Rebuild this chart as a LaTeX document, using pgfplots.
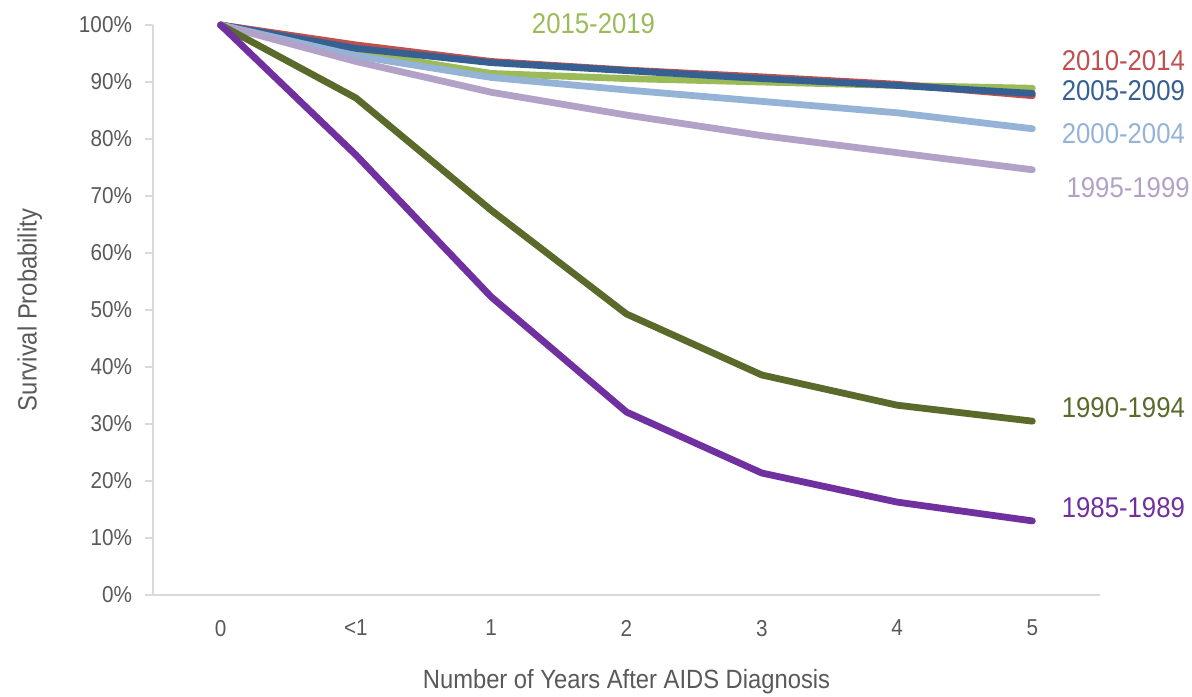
\documentclass[border=0pt]{standalone}
\usepackage{pgfplots}
\usepackage{pgfplotstable}
\pgfplotsset{compat=1.18}
\usepackage{fontspec}
\setmainfont{Liberation Sans}[FakeStretch=0.9]

\definecolor{txtgray}{HTML}{595959}
\definecolor{axgray}{HTML}{D9D9D9}
\definecolor{c8589}{HTML}{7030A0}
\definecolor{c9094}{HTML}{5A6A2A}
\definecolor{c9599}{HTML}{B3A2C7}
\definecolor{c0004}{HTML}{95B3D7}
\definecolor{c0509}{HTML}{376092}
\definecolor{c1014}{HTML}{C0504D}
\definecolor{c1519}{HTML}{9BBB59}

% Survival probability (%) by year of AIDS diagnosis
% x: 0 = diagnosis, 1 = "<1", 2..6 = years 1..5
\pgfplotstableread{
x  s8589 s9094 s9599 s0004 s0509 s1014 s1519
0  100   100   100   100   100   100   100
1  77.2  87.2  93.6  94.6  95.9  96.5  95.3
2  52.3  67.5  88.2  90.8  93.4  93.6  91.5
3  32.1  49.3  84.2  88.6  92.0  92.1  90.6
4  21.4  38.6  80.6  86.6  90.6  90.9  90.0
5  16.3  33.3  77.6  84.6  89.4  89.6  89.4
6  13.0  30.5  74.6  81.8  88.0  87.6  88.9
}\survival

\begin{document}
\begin{tikzpicture}
\path[use as bounding box] (-76.5pt,-50.5pt) rectangle (519.5pt,297.5pt);
\begin{axis}[
  at={(0,0)}, anchor=south west,
  scale only axis,
  width=473.5pt, height=285pt,
  xmin=-0.5, xmax=6.5,
  ymin=0, ymax=100,
  clip=false,
  axis x line*=bottom,
  axis y line*=left,
  x axis line style={axgray, line width=1pt},
  y axis line style={axgray, line width=0.6pt},
  xtick={0,1,2,3,4,5,6},
  xticklabels={0,<1,1,2,3,4,5},
  ytick={0,10,20,30,40,50,60,70,80,90,100},
  yticklabels={0\%,10\%,20\%,30\%,40\%,50\%,60\%,70\%,80\%,90\%,100\%},
  tick align=outside,
  major tick length=4pt,
  xtick style={draw=none},
  ytick style={axgray, line width=0.6pt},
  tick label style={txtgray, font=\fontsize{11.5}{14}\selectfont},
  yticklabel style={xshift=-3pt},
  xticklabel style={yshift=-5pt},
  xlabel={Number of Years After AIDS Diagnosis},
  ylabel={Survival Probability},
  label style={txtgray, font=\fontsize{13.2}{15}\selectfont},
  xlabel style={at={(axis description cs:0.5,-0.1526)}, anchor=center},
  ylabel style={at={(axis description cs:-0.13,0.5)}, anchor=center},
  every axis plot/.style={line width=3.4pt, line cap=round, line join=round},
]
\addplot[c1519] table[x=x, y=s1519] {\survival};
\addplot[c1014] table[x=x, y=s1014] {\survival};
\addplot[c0509] table[x=x, y=s0509] {\survival};
\addplot[c0004] table[x=x, y=s0004] {\survival};
\addplot[c9599] table[x=x, y=s9599] {\survival};
\addplot[c9094] table[x=x, y=s9094] {\survival};
\addplot[c8589] table[x=x, y=s8589] {\survival};

\begin{scope}[every node/.style={font=\fontsize{14.3}{17}\selectfont, inner sep=0pt}]
\node[c1519, anchor=center] at (axis cs:2.756,100.2) {2015-2019};
\node[c1014, anchor=west] at (axis cs:6.215,93.7) {2010-2014};
\node[c0509, anchor=west] at (axis cs:6.215,88.5) {2005-2009};
\node[c0004, anchor=west] at (axis cs:6.215,81.0) {2000-2004};
\node[c9599, anchor=west] at (axis cs:6.25,71.4) {1995-1999};
\node[c9094, anchor=west] at (axis cs:6.215,32.8) {1990-1994};
\node[c8589, anchor=west] at (axis cs:6.215,15.3) {1985-1989};
\end{scope}
\end{axis}
\end{tikzpicture}
\end{document}
